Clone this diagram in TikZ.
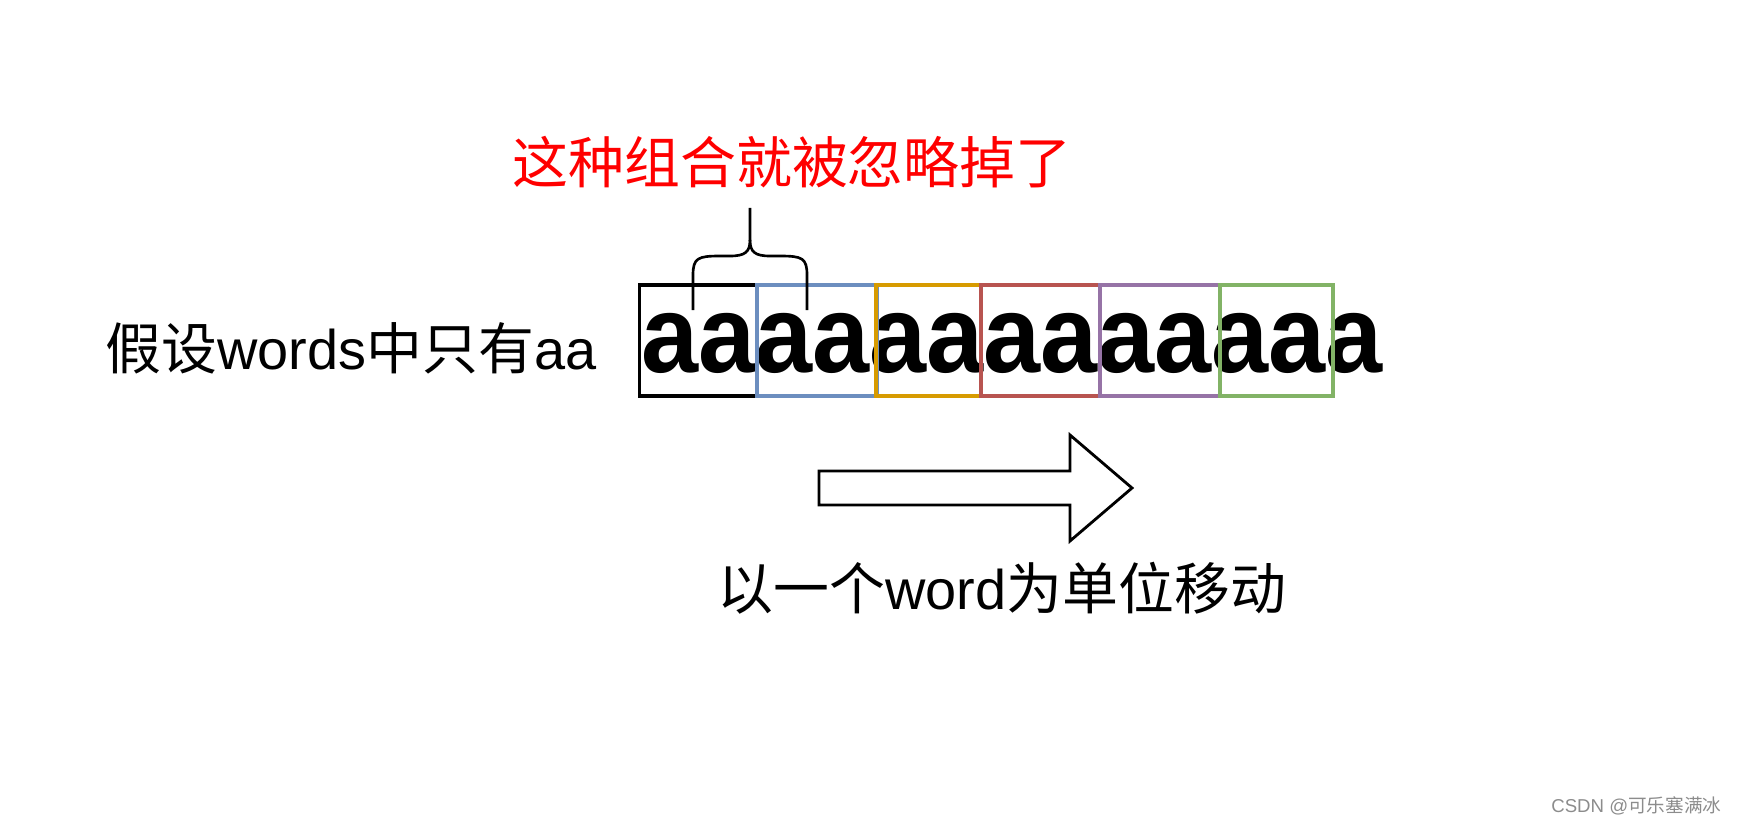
\documentclass[tikz,border=0pt]{standalone}
\usepackage{fontspec}
\usepackage{graphicx}
\usepackage{tikz}
\usepackage{xcolor}
\setmainfont{Liberation Sans}
\newfontfamily\cjk{Noto Sans CJK SC}
\definecolor{boxblue}{HTML}{6C8EBF}
\definecolor{boxorange}{HTML}{D79B00}
\definecolor{boxred}{HTML}{B85450}
\definecolor{boxpurple}{HTML}{9673A6}
\definecolor{boxgreen}{HTML}{82B366}

\begin{document}
\begin{tikzpicture}[
        wordbox/.style={draw, line width=1pt, minimum height=1.11cm, inner sep=0},
        caption/.style={inner sep=0, font=\fontsize{15.9}{18}\selectfont}]
        \useasboundingbox (0, 0) rectangle (17.38, -8.23);

        \node[inner sep=0, anchor=base west, font=\fontsize{31.3}{34}\selectfont\bfseries] (seq) at (6.41, -3.72) {\scalebox{0.932}[1]{aaaaaaaaaaaaa}};

        \node[wordbox, minimum width=1.18cm] (w1) at (6.985, -3.405) {};
        \node[wordbox, draw=boxblue, minimum width=1.20cm] (w2) at (8.17, -3.405) {};
        \node[wordbox, draw=boxorange, minimum width=1.05cm] (w3) at (9.285, -3.405) {};
        \node[wordbox, draw=boxred, minimum width=1.19cm] (w4) at (10.405, -3.405) {};
        \node[wordbox, draw=boxpurple, minimum width=1.20cm] (w5) at (11.60, -3.405) {};
        \node[wordbox, draw=boxgreen, minimum width=1.13cm] (w6) at (12.765, -3.405) {};

        \node[caption, anchor=base west] (intro) at (1.05, -3.69) {{\cjk 假设}words{\cjk 中只有}aa};
        \node[caption, anchor=base, text=red] (note) at (7.92, -1.83) {\cjk 这种组合就被忽略掉了};
        \node[caption, anchor=base] (move) at (10.02, -6.09) {{\cjk 以一个}word{\cjk 为单位移动}};
        \node[inner sep=0, anchor=base east, text=black!45, font=\fontsize{5.3}{6}\selectfont] (mark) at (17.22, -8.12) {CSDN @{\cjk 可乐塞满冰}};

        \draw[line width=0.75pt] (6.93, -3.10) -- (6.93, -2.75)
            .. controls (6.93, -2.58) and (6.98, -2.56) .. (7.20, -2.56) -- (7.30, -2.56)
            .. controls (7.45, -2.56) and (7.50, -2.52) .. (7.50, -2.40) -- (7.50, -2.08);
        \draw[line width=0.75pt] (8.07, -3.10) -- (8.07, -2.75)
            .. controls (8.07, -2.58) and (8.02, -2.56) .. (7.80, -2.56) -- (7.70, -2.56)
            .. controls (7.55, -2.56) and (7.50, -2.52) .. (7.50, -2.40);

        \draw[line width=0.8pt, fill=white] (8.19, -4.71) -- (10.70, -4.71) -- (10.70, -4.35)
            -- (11.32, -4.88) -- (10.70, -5.41) -- (10.70, -5.05) -- (8.19, -5.05) -- cycle;
    \end{tikzpicture}
\end{document}
